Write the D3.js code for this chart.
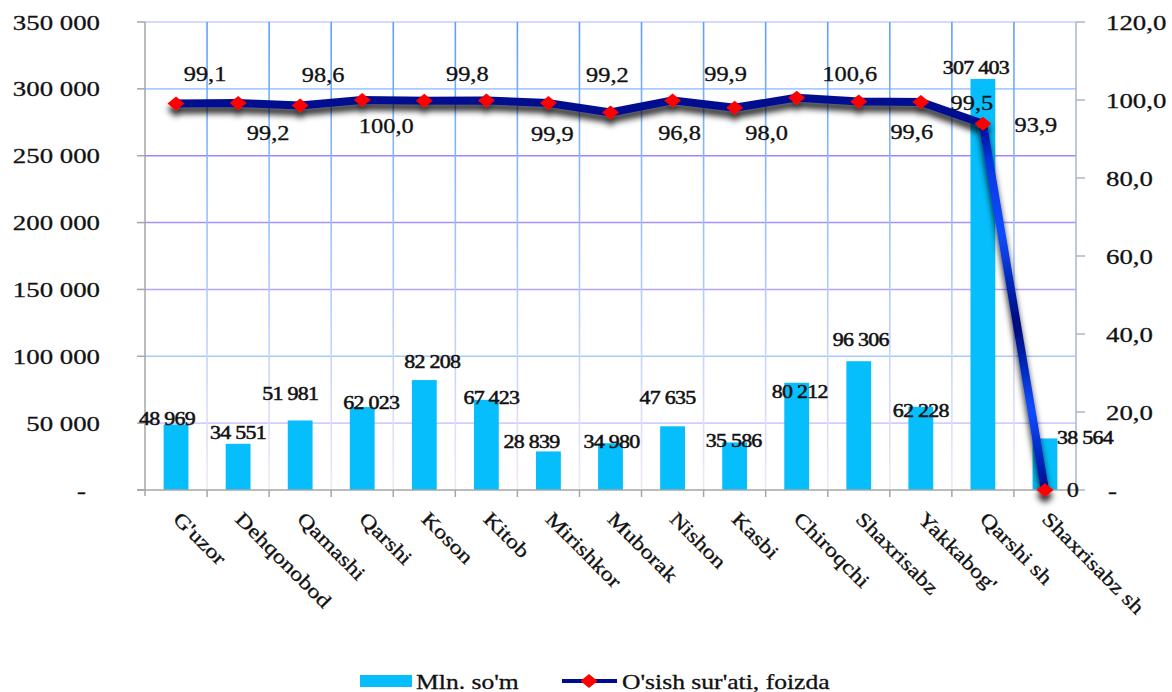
<!DOCTYPE html>
<html>
<head>
<meta charset="utf-8">
<script src="https://cdn.jsdelivr.net/npm/d3@7"></script>
<style>
  html, body { margin: 0; padding: 0; background: #fff; }
  svg { display: block; }
  text { fill: #111; stroke: #111; stroke-width: 0.3px; }
</style>
</head>
<body>
<svg id="chart" width="1172" height="692" font-family="Liberation Serif, Times New Roman, serif"></svg>
<script>
var categories = ["G'uzor", "Dehqonobod", "Qamashi", "Qarshi", "Koson", "Kitob", "Mirishkor",
  "Muborak", "Nishon", "Kasbi", "Chiroqchi", "Shaxrisabz", "Yakkabog'", "Qarshi sh", "Shaxrisabz sh"];
var mlnSom = [48969, 34551, 51981, 62023, 82208, 67423, 28839, 34980, 47635, 35586, 80212, 96306, 62228, 307403, 38564];
var growthPct = [99.1, 99.2, 98.6, 100.0, 99.8, 99.9, 99.2, 96.8, 99.9, 98.0, 100.6, 99.6, 99.5, 93.9, 0];
var leftTicks = [0, 50000, 100000, 150000, 200000, 250000, 300000, 350000];
var rightTicks = [0, 20, 40, 60, 80, 100, 120];
var seriesNames = ["Mln. so'm", "O'sish sur'ati, foizda"];

// label nudges as in the original (Excel placed them by hand)
var barLabelNudge = [[-9,-6],[0,-11],[-10,-27],[9,-4],[8,-18],[5,-2],[-17,-10],[1,-2],[-5,-29],[-1,-2],[3,9],[2,-22],[0,4],[-7,-11],[40,-1]];
var lineLabelNudge = [[29,-29],[30,30],[23,-30],[24,26],[43,-27],[66,34],[59,-28],[69,21],[53,-26],[32,25],[53,-23],[53,31],[51,1],[53,1],[28,0]];

var SX = 1.22; // the picture is stretched sideways
var svg = d3.select('#chart');
var pL = 145, pR = 1076, pT = 22, pB = 490;

var xCat = d3.scaleBand().domain(categories).range([pL, pR]).padding(0);
var xBar = d3.scaleBand().domain(categories).range([pL, pR]).paddingInner(0.6).paddingOuter(0.3);
var yL = d3.scaleLinear().domain([0, 350000]).range([pB, pT]);
var yR = d3.scaleLinear().domain([0, 120]).range([pB, pT]);

var uz = d3.formatLocale({ decimal: ',', thousands: ' ', grouping: [3], currency: ['', ''] });
var fmtInt = uz.format(',d');
var fmtPct = uz.format('.1f');

function place(sel, x, y, pre) {
  return sel.attr('transform', 'translate(' + x + ',' + y + ')' + (pre || '') + ' scale(' + SX + ',1)');
}

var defs = svg.append('defs');
var vg = defs.append('linearGradient').attr('id', 'vgrid').attr('gradientUnits', 'userSpaceOnUse')
  .attr('x1', 0).attr('x2', 0).attr('y1', pT).attr('y2', pB);
vg.append('stop').attr('offset', 0).attr('stop-color', '#5e9fff');
vg.append('stop').attr('offset', 0.55).attr('stop-color', '#accbfb');
vg.append('stop').attr('offset', 1).attr('stop-color', '#f6e6f6');

var f = defs.append('filter').attr('id', 'shadow').attr('x', '-20%').attr('y', '-20%').attr('width', '140%').attr('height', '140%');
f.append('feDropShadow').attr('dx', 0).attr('dy', 6).attr('stdDeviation', 3)
  .attr('flood-color', '#000').attr('flood-opacity', 0.85);

// horizontal grid
var hColors = ['#ffffff', '#d2ccff', '#a8cbff', '#b8a4ff', '#a890ff', '#a283ff', '#a8ccff', '#c4ccff'];
svg.append('g').selectAll('line').data(leftTicks.slice(1)).enter().append('line')
  .attr('x1', pL).attr('x2', pR)
  .attr('y1', function(d) { return yL(d); }).attr('y2', function(d) { return yL(d); })
  .attr('stroke', function(d, i) { return hColors[i + 1]; }).attr('stroke-width', 1.6);

// vertical grid at category boundaries
svg.append('g').selectAll('line').data(categories.slice(1)).enter().append('line')
  .attr('x1', function(d) { return xCat(d); }).attr('x2', function(d) { return xCat(d); })
  .attr('y1', pT).attr('y2', pB)
  .attr('stroke', 'url(#vgrid)').attr('stroke-width', 1.6);

// bars
svg.append('g').selectAll('rect').data(mlnSom).enter().append('rect')
  .attr('x', function(d, i) { return xBar(categories[i]); })
  .attr('width', xBar.bandwidth())
  .attr('y', function(d) { return yL(d); })
  .attr('height', function(d) { return pB - yL(d); })
  .attr('fill', '#05befb');

// axis lines
svg.append('line').attr('x1', pL).attr('x2', pL).attr('y1', pT).attr('y2', pB + 6).attr('stroke', '#a6a6a6').attr('stroke-width', 1.5);
svg.append('line').attr('x1', pR).attr('x2', pR).attr('y1', pT).attr('y2', pB).attr('stroke', '#a9b6cc').attr('stroke-width', 1.5);
svg.append('line').attr('x1', pL - 8).attr('x2', pR).attr('y1', pB).attr('y2', pB).attr('stroke', '#a6a6a6').attr('stroke-width', 1.5);

// left ticks + labels
var lt = svg.append('g').selectAll('g').data(leftTicks).enter().append('g');
lt.append('line').attr('x1', pL - 8).attr('x2', pL).attr('y1', function(d) { return yL(d); }).attr('y2', function(d) { return yL(d); })
  .attr('stroke', '#a6a6a6').attr('stroke-width', 1.5);
lt.append('text').each(function(d) { place(d3.select(this), d === 0 ? 86 : 100, yL(d)); })
  .attr('text-anchor', 'end').attr('dominant-baseline', 'central').attr('font-size', 22)
  .text(function(d) { return d === 0 ? '-' : fmtInt(d); });

// right ticks + labels
var rt = svg.append('g').selectAll('g').data(rightTicks).enter().append('g');
rt.append('line').attr('x1', pR).attr('x2', pR + 9).attr('y1', function(d) { return yR(d); }).attr('y2', function(d) { return yR(d); })
  .attr('stroke', '#a9b6cc').attr('stroke-width', 1.5);
rt.append('text').each(function(d) { place(d3.select(this), d === 0 ? 1108 : 1106, yR(d)); })
  .attr('text-anchor', 'start').attr('dominant-baseline', 'central').attr('font-size', 22)
  .text(function(d) { return d === 0 ? '-' : fmtPct(d); });

// bottom ticks
svg.append('g').selectAll('line').data(categories.slice(1)).enter().append('line')
  .attr('x1', function(d) { return xCat(d); }).attr('x2', function(d) { return xCat(d); })
  .attr('y1', pB).attr('y2', pB + 7).attr('stroke', '#a6a6a6').attr('stroke-width', 1.5);

// category labels, 45 degrees
svg.append('g').selectAll('text').data(categories).enter().append('text')
  .each(function(d) { place(d3.select(this), xCat(d) + xCat.bandwidth() / 2 + 6, 510, ' rotate(45)'); })
  .attr('dominant-baseline', 'hanging').attr('font-size', 20)
  .text(function(d) { return d; });

// bar labels
svg.append('g').selectAll('text').data(mlnSom).enter().append('text')
  .each(function(d, i) {
    var cx = xBar(categories[i]) + xBar.bandwidth() / 2;
    place(d3.select(this), cx + barLabelNudge[i][0], yL(d) + barLabelNudge[i][1]);
  })
  .attr('text-anchor', 'middle').attr('dominant-baseline', 'central').attr('font-size', 18)
  .attr('letter-spacing', -0.6).style('stroke-width', '0.5px')
  .text(function(d) { return fmtInt(d); });

// growth line
var pts = growthPct.map(function(v, i) { return [xCat(categories[i]) + xCat.bandwidth() / 2, yR(v)]; });
var lineGen = d3.line();
var lg = svg.append('g').attr('filter', 'url(#shadow)');
lg.append('path').attr('d', lineGen(pts.slice(0, pts.length - 1))).attr('fill', 'none')
  .attr('stroke', '#000c8e').attr('stroke-width', 8).attr('stroke-linejoin', 'round');

var a = pts[pts.length - 2], b = pts[pts.length - 1];
var sg = defs.append('linearGradient').attr('id', 'seg').attr('gradientUnits', 'userSpaceOnUse')
  .attr('x1', a[0]).attr('y1', a[1]).attr('x2', b[0]).attr('y2', b[1]);
[[0, '#000c8e'], [0.1, '#0636e0'], [0.3, '#0a4cff'], [0.55, '#00087a'], [0.78, '#0a4cff'], [1, '#000c8e']].forEach(function(s) {
  sg.append('stop').attr('offset', s[0]).attr('stop-color', s[1]);
});
lg.append('path').attr('d', lineGen([a, b])).attr('fill', 'none')
  .attr('stroke', 'url(#seg)').attr('stroke-width', 8).attr('stroke-linecap', 'butt');

lg.selectAll('path.mk').data(pts).enter().append('path').attr('class', 'mk')
  .attr('d', 'M0,-7L8.5,0L0,7L-8.5,0Z')
  .attr('transform', function(p) { return 'translate(' + p[0] + ',' + p[1] + ')'; })
  .attr('fill', '#ff0000');

// line labels
svg.append('g').selectAll('text').data(growthPct).enter().append('text')
  .each(function(d, i) { place(d3.select(this), pts[i][0] + lineLabelNudge[i][0], pts[i][1] + lineLabelNudge[i][1]); })
  .attr('text-anchor', 'middle').attr('dominant-baseline', 'central').attr('font-size', 20)
  .text(function(d) { return d === 0 ? '0' : fmtPct(d); });

// legend
var leg = svg.append('g');
leg.append('rect').attr('x', 360).attr('y', 675).attr('width', 52).attr('height', 12).attr('fill', '#05befb');
place(leg.append('text'), 416, 689).attr('font-size', 21).text(seriesNames[0]);
leg.append('line').attr('x1', 562).attr('x2', 617).attr('y1', 681).attr('y2', 681).attr('stroke', '#000c8e').attr('stroke-width', 4);
leg.append('path').attr('d', 'M0,-7L8.5,0L0,7L-8.5,0Z').attr('transform', 'translate(589,681)').attr('fill', '#ff0000');
place(leg.append('text'), 622, 689).attr('font-size', 21).text(seriesNames[1]);
</script>
</body>
</html>
